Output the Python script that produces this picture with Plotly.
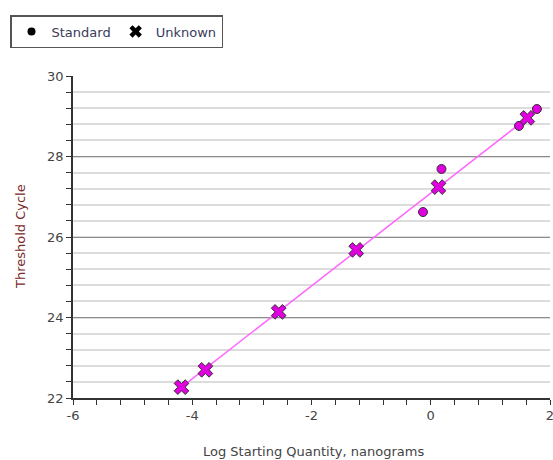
import numpy as np
import plotly.graph_objects as go

# Data
std_x = [-0.13, 0.18, 1.48, 1.78]
std_y = [26.62, 27.69, 28.76, 29.18]
unk_x = [-4.18, -3.78, -2.55, -1.25, 0.13, 1.62]
unk_y = [22.27, 22.70, 24.14, 25.68, 27.24, 28.96]
slope = 1.153
intercept = 27.09
x_ticks = [-6, -4, -2, 0, 2]
x_labels = ["-6", "-4", "-2", "0", "2"]
y_ticks = [22, 24, 26, 28, 30]

W, H = 553, 460
ML, MR, MT, MB = 73, 3, 76, 62
PW, PH = W - ML - MR, H - MT - MB

font = "DejaVu Sans"
fig = go.Figure()

lx = np.array([min(unk_x + std_x), max(unk_x + std_x)])
fig.add_trace(go.Scatter(x=lx, y=slope * lx + intercept, mode="lines",
                         line=dict(color="#ff66ff", width=1.5), showlegend=False, hoverinfo="skip"))
fig.add_trace(go.Scatter(x=std_x, y=std_y, mode="markers", showlegend=False,
                         marker=dict(symbol="circle", size=9, color="#e000e0",
                                     line=dict(color="#333333", width=1))))
fig.add_trace(go.Scatter(x=unk_x, y=unk_y, mode="markers", showlegend=False,
                         marker=dict(symbol="x", size=13, color="#e000e0",
                                     line=dict(color="#333333", width=1))))
# legend entries (black symbols)
fig.add_trace(go.Scatter(x=[None], y=[None], mode="markers", name="Standard",
                         marker=dict(symbol="circle", size=8, color="black")))
fig.add_trace(go.Scatter(x=[None], y=[None], mode="markers", name="Unknown",
                         marker=dict(symbol="x", size=11, color="black")))

fig.update_layout(
    width=W, height=H,
    margin=dict(l=ML, r=MR, t=MT, b=MB, autoexpand=False),
    paper_bgcolor="white", plot_bgcolor="white",
    font=dict(family=font, size=13, color="#444444"),
    showlegend=True,
    legend=dict(orientation="h", xref="container", yref="container",
                x=10 / W, y=1 - 15 / H, xanchor="left", yanchor="top",
                bordercolor="#555555", borderwidth=1.5, bgcolor="white",
                font=dict(family=font, size=13, color="#3a3a5a"),
                itemwidth=30, tracegroupgap=0),
    xaxis=dict(range=[-6, 2], tickvals=x_ticks, ticktext=x_labels, showgrid=False, zeroline=False,
               showline=True, linecolor="#333333", linewidth=1.5, automargin=False,
               ticks="outside", ticklen=5, tickcolor="#333333", ticklabeloverflow="allow",
               minor=dict(dtick=0.4, ticks="outside", ticklen=5, tickcolor="#333333", showgrid=False)),
    yaxis=dict(range=[22, 30], tickvals=y_ticks, showgrid=True, gridcolor="#8c8c8c", gridwidth=1,
               zeroline=False, showline=True, linecolor="#333333", linewidth=1.5, automargin=False,
               ticks="outside", ticklen=5, tickcolor="#333333",
               minor=dict(dtick=0.4, ticks="outside", ticklen=5, tickcolor="#333333",
                          showgrid=True, gridcolor="#dcdcdc", gridwidth=2)),
    annotations=[
        dict(text="Log Starting Quantity, nanograms", xref="paper", yref="paper",
             x=(313 - ML) / PW, y=(H - MB - 451) / PH, xanchor="center", yanchor="middle",
             showarrow=False, font=dict(family=font, size=13, color="#444444")),
        dict(text="Threshold Cycle", xref="paper", yref="paper",
             x=(20 - ML) / PW, y=0.5, xanchor="center", yanchor="middle", textangle=-90,
             showarrow=False, font=dict(family=font, size=13, color="#7a2a2a")),
    ],
)
fig.write_html("out.html", config={"displayModeBar": False},
               post_script="document.body.style.margin='0';")
